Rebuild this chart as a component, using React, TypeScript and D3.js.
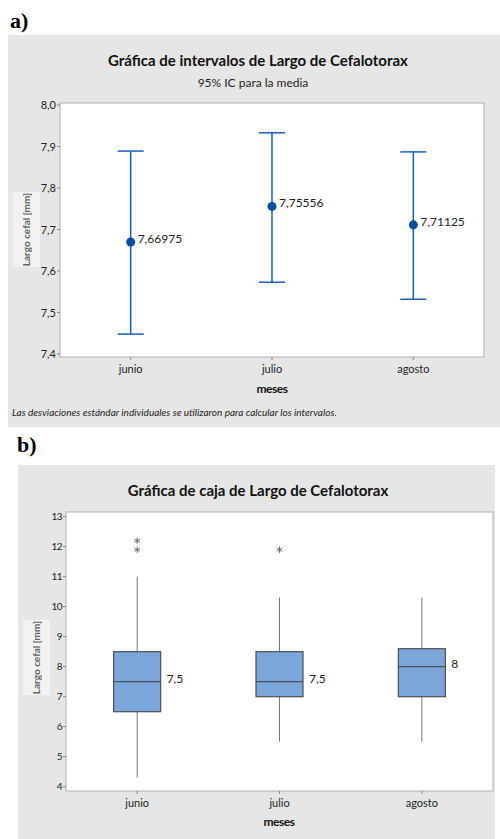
import React from "react";
import * as d3 from "d3";

const months = ["junio", "julio", "agosto"];
// Panel a: 95% CI for the mean
const ciMeans = [7.66975, 7.75556, 7.71125];
const ciLower = [7.448, 7.573, 7.532];
const ciUpper = [7.889, 7.933, 7.887];
const ciLabels = ["7,66975", "7,75556", "7,71125"];
const ciTicks = [7.4, 7.5, 7.6, 7.7, 7.8, 7.9, 8.0];

// Panel b: boxplot
const boxQ1 = [6.5, 7.0, 7.0];
const boxMedian = [7.5, 7.5, 8.0];
const boxQ3 = [8.5, 8.5, 8.6];
const whiskLow = [4.3, 5.5, 5.5];
const whiskHigh = [11.0, 10.3, 10.3];
const outliers = [[12.2, 11.9], [11.9], []];
const medianLabels = ["7,5", "7,5", "8"];
const boxTicks = [4, 5, 6, 7, 8, 9, 10, 11, 12, 13];

const FONT = "Lato, 'Open Sans', sans-serif";
const BLUE = "#1a5fb4";
const DOT = "#0a4ea0";

function YLabelPatch({ x, y, w, h }: { x: number; y: number; w: number; h: number }) {
  return (
    <g>
      <rect x={x} y={y} width={w} height={h} fill="#f2f2f2" />
      <text
        transform={`translate(${x + w / 2 + 3},${y + h / 2}) rotate(-90)`}
        textAnchor="middle"
        fontFamily={FONT}
        fontWeight="bold"
        fontSize={10}
        fill="#333"
        opacity={0.75}
      >
        Largo cefal [mm]
      </text>
    </g>
  );
}

export default function App() {
  // Panel a scales
  const aLeft = 60, aRight = 484, aTop = 103, aBottom = 357;
  const xa = d3.scalePoint<string>().domain(months).range([aLeft, aRight]).padding(0.5);
  const ya = d3.scaleLinear().domain([7.4, 8.0]).range([354, 105]);

  // Panel b scales
  const bLeft = 66, bRight = 493, bTop = 512, bBottom = 791;
  const xb = d3.scalePoint<string>().domain(months).range([bLeft, bRight]).padding(0.5);
  const yb = d3.scaleLinear().domain([4, 13]).range([786.7, 516.7]);
  const boxW = 47;
  const capW = 26;
  const ast = d3.symbol().type(d3.symbolAsterisk).size(28);

  return (
    <div style={{ position: "absolute", left: 0, top: 0 }}>
      <svg width={500} height={839} style={{ display: "block", background: "#fff" }}>
        {/* Panel a */}
        <text x={10} y={28} fontFamily="'Liberation Serif', 'Times New Roman', serif" fontWeight="bold" fontSize={22}>a)</text>
        <rect x={8} y={35} width={492} height={392} fill="#e6e6e6" />
        <text x={258} y={66} textAnchor="middle" fontFamily={FONT} fontWeight="bold" fontSize={15} fill="#111">
          Gráfica de intervalos de Largo de Cefalotorax
        </text>
        <text x={253} y={87} textAnchor="middle" fontFamily={FONT} fontSize={12} fill="#222">
          95% IC para la media
        </text>
        <rect x={aLeft} y={aTop} width={aRight - aLeft} height={aBottom - aTop} fill="#fff" stroke="#b0b0b0" strokeWidth={1} />
        {ciTicks.map((t) => (
          <g key={t}>
            <line x1={aLeft - 3} x2={aLeft} y1={ya(t)} y2={ya(t)} stroke="#888" />
            <text x={aLeft - 4} y={ya(t) + 4} textAnchor="end" fontFamily={FONT} fontSize={11} fill="#222">
              {t.toFixed(1).replace(".", ",")}
            </text>
          </g>
        ))}
        {months.map((m) => (
          <g key={m}>
            <line x1={xa(m)} x2={xa(m)} y1={aBottom} y2={aBottom + 3} stroke="#888" />
            <text x={xa(m)} y={373} textAnchor="middle" fontFamily={FONT} fontSize={11} fill="#222">{m}</text>
          </g>
        ))}
        <text x={272} y={393} textAnchor="middle" fontFamily={FONT} fontWeight="bold" fontSize={12} fill="#111" letterSpacing={-0.5}>meses</text>
        <text x={12} y={416} fontFamily={FONT} fontStyle="italic" fontSize={10} fill="#222">
          Las desviaciones estándar individuales se utilizaron para calcular los intervalos.
        </text>
        <YLabelPatch x={13} y={192} w={27} h={75} />
        {months.map((m, i) => {
          const cx = xa(m) as number;
          return (
            <g key={m}>
              <line x1={cx} x2={cx} y1={ya(ciLower[i])} y2={ya(ciUpper[i])} stroke={BLUE} strokeWidth={1.5} />
              <line x1={cx - capW / 2} x2={cx + capW / 2} y1={ya(ciUpper[i])} y2={ya(ciUpper[i])} stroke={BLUE} strokeWidth={1.5} />
              <line x1={cx - capW / 2} x2={cx + capW / 2} y1={ya(ciLower[i])} y2={ya(ciLower[i])} stroke={BLUE} strokeWidth={1.5} />
              <circle cx={cx} cy={ya(ciMeans[i])} r={4.5} fill={DOT} />
              <text x={cx + 7} y={ya(ciMeans[i]) + 1} fontFamily={FONT} fontSize={12} fill="#222">{ciLabels[i]}</text>
            </g>
          );
        })}

        {/* Panel b */}
        <text x={17} y={452} fontFamily="'Liberation Serif', 'Times New Roman', serif" fontWeight="bold" fontSize={22}>b)</text>
        <rect x={18} y={465} width={477} height={374} fill="#e6e6e6" />
        <text x={258} y={496} textAnchor="middle" fontFamily={FONT} fontWeight="bold" fontSize={15} fill="#111">
          Gráfica de caja de Largo de Cefalotorax
        </text>
        <rect x={bLeft} y={bTop} width={bRight - bLeft} height={bBottom - bTop} fill="#fff" stroke="#b0b0b0" strokeWidth={1} />
        {boxTicks.map((t) => (
          <g key={t}>
            <line x1={bLeft - 3} x2={bLeft} y1={yb(t)} y2={yb(t)} stroke="#888" />
            <text x={bLeft - 4} y={yb(t) + 3.5} textAnchor="end" fontFamily={FONT} fontSize={10} fill="#222" letterSpacing={-0.5}>
              {t}
            </text>
          </g>
        ))}
        {months.map((m) => (
          <g key={m}>
            <line x1={xb(m)} x2={xb(m)} y1={bBottom} y2={bBottom + 3} stroke="#888" />
            <text x={xb(m)} y={807} textAnchor="middle" fontFamily={FONT} fontSize={11} fill="#222">{m}</text>
          </g>
        ))}
        <text x={279} y={826} textAnchor="middle" fontFamily={FONT} fontWeight="bold" fontSize={12} fill="#111" letterSpacing={-0.5}>meses</text>
        <YLabelPatch x={23} y={620} w={27} h={75} />
        {months.map((m, i) => {
          const cx = xb(m) as number;
          return (
            <g key={m}>
              <line x1={cx} x2={cx} y1={yb(whiskLow[i])} y2={yb(boxQ1[i])} stroke="#777" strokeWidth={1} />
              <line x1={cx} x2={cx} y1={yb(boxQ3[i])} y2={yb(whiskHigh[i])} stroke="#777" strokeWidth={1} />
              <rect
                x={cx - boxW / 2}
                y={yb(boxQ3[i])}
                width={boxW}
                height={yb(boxQ1[i]) - yb(boxQ3[i])}
                fill="#7ba6da"
                stroke="#4a4f58"
                strokeWidth={1.2}
              />
              <line x1={cx - boxW / 2} x2={cx + boxW / 2} y1={yb(boxMedian[i])} y2={yb(boxMedian[i])} stroke="#4a4f58" strokeWidth={1.2} />
              <text x={cx + boxW / 2 + 6} y={yb(boxMedian[i]) + 1} fontFamily={FONT} fontSize={12} fill="#222">{medianLabels[i]}</text>
              {outliers[i].map((o, j) => (
                <path key={j} d={ast() as string} transform={`translate(${cx},${yb(o)})`} stroke="#666" strokeWidth={1} fill="none" />
              ))}
            </g>
          );
        })}
      </svg>
    </div>
  );
}
